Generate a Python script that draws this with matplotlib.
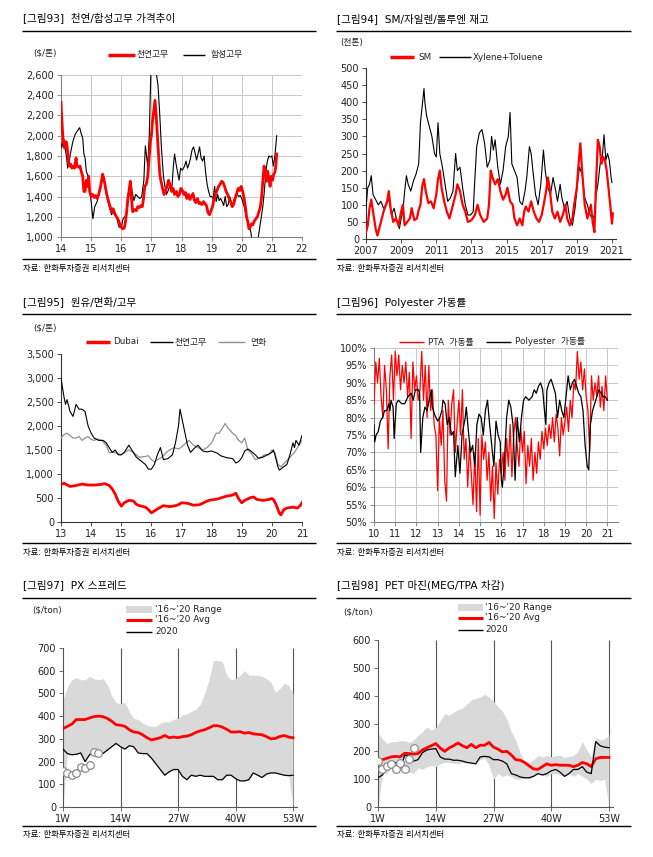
import matplotlib
matplotlib.use('Agg')
import matplotlib.pyplot as plt
from matplotlib.lines import Line2D
from matplotlib.patches import Rectangle
from matplotlib.ticker import FuncFormatter, MultipleLocator

# ---------------- DATA ----------------
# [그림93] 천연/합성고무 ($/톤)
nat93_t = [14.0, 14.02, 14.05, 14.08, 14.1, 14.13, 14.17, 14.2, 14.24, 14.28, 14.32, 14.36, 14.4, 14.45, 14.5, 14.53, 14.58, 14.63, 14.68, 14.72, 14.76, 14.8, 14.84, 14.88, 14.92, 14.95,
           15.0, 15.05, 15.1, 15.15, 15.2, 15.25, 15.3, 15.35, 15.38, 15.42, 15.47, 15.52, 15.58, 15.63, 15.68, 15.73, 15.78, 15.84, 15.9, 15.95,
           16.0, 16.05, 16.1, 16.14, 16.18, 16.22, 16.27, 16.3, 16.34, 16.38, 16.45, 16.5, 16.55, 16.6, 16.65, 16.7, 16.74, 16.78, 16.83, 16.88, 16.93, 16.97,
           17.0, 17.04, 17.08, 17.12, 17.16, 17.2, 17.24, 17.28, 17.32, 17.37, 17.42, 17.47, 17.52, 17.57, 17.62, 17.67, 17.72, 17.77, 17.83, 17.88, 17.93, 17.98,
           18.03, 18.08, 18.13, 18.18, 18.23, 18.28, 18.33, 18.38, 18.43, 18.48, 18.53, 18.58, 18.63, 18.68, 18.73, 18.78, 18.83, 18.88, 18.93, 18.98,
           19.03, 19.08, 19.13, 19.18, 19.23, 19.28, 19.33, 19.38, 19.43, 19.48, 19.53, 19.58, 19.63, 19.68, 19.73, 19.78, 19.83, 19.88, 19.93, 19.98,
           20.03, 20.08, 20.12, 20.16, 20.2, 20.24, 20.28, 20.32, 20.37, 20.42, 20.47, 20.52, 20.57, 20.62, 20.66, 20.7, 20.74, 20.78, 20.82, 20.86, 20.9, 20.94, 20.98,
           21.02, 21.06, 21.1, 21.13, 21.16]
nat93_v = [2330, 2200, 2050, 1920, 1950, 1880, 1940, 1900, 1780, 1700, 1720, 1680, 1700, 1680, 1780, 1700, 1690, 1700, 1640, 1600, 1450, 1450, 1560, 1500, 1600, 1450,
           1400, 1420, 1390, 1410, 1380, 1420, 1480, 1560, 1620, 1580, 1500, 1420, 1350, 1300, 1250, 1280, 1230, 1200, 1170, 1130,
           1100, 1080, 1090, 1150, 1250, 1380, 1480, 1550, 1380, 1250, 1270, 1260, 1300, 1290, 1310, 1300, 1380, 1500, 1520, 1600, 1800, 1950,
           2000, 2150, 2250, 2350, 2200, 2000, 1800, 1620, 1550, 1480, 1420, 1460, 1500, 1560, 1520, 1450, 1480, 1420, 1450, 1400, 1420, 1480,
           1460, 1420, 1440, 1380, 1420, 1370, 1400, 1430, 1360, 1340, 1380, 1330, 1340, 1320, 1350, 1330, 1310, 1240, 1220, 1260,
           1300, 1380, 1420, 1460, 1500, 1520, 1550, 1540, 1500, 1450, 1420, 1380, 1350, 1300, 1320, 1380, 1430, 1480, 1460, 1500,
           1450, 1380, 1300, 1200, 1150, 1080, 1100, 1130, 1120, 1160, 1180, 1200, 1250, 1300, 1400, 1550, 1700, 1650, 1550, 1650, 1580, 1500, 1600,
           1560, 1620, 1640, 1700, 1820]
syn93_t = [14.0, 14.04, 14.08, 14.12, 14.18, 14.22, 14.28, 14.33, 14.4, 14.48, 14.55, 14.62, 14.67, 14.72, 14.76, 14.8, 14.84, 14.9, 14.95,
           15.0, 15.06, 15.12, 15.2, 15.28, 15.35, 15.4, 15.45, 15.5, 15.56, 15.62, 15.68, 15.74, 15.8, 15.86, 15.92,
           16.0, 16.06, 16.12, 16.18, 16.22, 16.28, 16.32, 16.36, 16.42, 16.48, 16.55, 16.62, 16.68, 16.75, 16.8, 16.84, 16.88, 16.93, 16.98,
           17.03, 17.1, 17.17, 17.22, 17.28, 17.33, 17.4, 17.45, 17.5, 17.56, 17.62, 17.68, 17.73, 17.77, 17.82, 17.87, 17.92, 17.97,
           18.03, 18.1, 18.15, 18.2, 18.25, 18.3, 18.35, 18.4, 18.45, 18.5, 18.55, 18.6, 18.65, 18.7, 18.75, 18.8, 18.85, 18.9, 18.95,
           19.0, 19.05, 19.1, 19.15, 19.2, 19.25, 19.3, 19.35, 19.4, 19.45, 19.5, 19.55, 19.6, 19.65, 19.7, 19.75, 19.8, 19.85, 19.9, 19.95,
           20.0, 20.05, 20.1, 20.15, 20.2, 20.25, 20.3, 20.35, 20.4, 20.45, 20.5, 20.55, 20.6, 20.65, 20.7, 20.75, 20.8, 20.85, 20.9, 20.95,
           21.0, 21.05, 21.1, 21.13, 21.16]
syn93_v = [1880, 1930, 1880, 1900, 1800, 1680, 1760, 1850, 1950, 2020, 2050, 2080, 2020, 1980, 1820, 1780, 1650, 1600, 1480,
           1350, 1180, 1300, 1350, 1450, 1550, 1600, 1520, 1420, 1350, 1280, 1220, 1270, 1240, 1180, 1100,
           1090, 1180, 1200, 1250, 1400, 1450, 1550, 1450, 1360, 1420, 1400, 1380, 1400, 1560, 1900, 1800, 1700, 2000, 2600,
           2800, 2700, 2600, 2500, 2200, 1900, 1600, 1500, 1420, 1460, 1520, 1480, 1700, 1820, 1720, 1640, 1560, 1680,
           1660, 1700, 1750, 1680, 1720, 1780, 1860, 1890, 1830, 1760, 1820, 1890, 1780, 1750, 1800, 1640, 1520, 1450, 1400,
           1400, 1380, 1500, 1350, 1420, 1360, 1380, 1350, 1310, 1400, 1300, 1320, 1400, 1340, 1300, 1380, 1400, 1420, 1400, 1410,
           1380, 1330, 1280, 1200, 1150, 1100, 1050, 950, 980, 960, 980, 1000, 1100, 1200, 1300, 1450, 1650, 1750, 1800, 1790,
           1800, 1700, 1800, 1900, 2000]

# [그림94] SM / Xylene+Toluene 재고 (천톤)
sm94_t = [2007.0, 2007.1, 2007.2, 2007.3, 2007.4, 2007.55, 2007.65, 2007.8, 2008.0, 2008.2, 2008.3, 2008.4, 2008.55, 2008.7, 2008.85,
          2009.0, 2009.1, 2009.2, 2009.35, 2009.5, 2009.6, 2009.75, 2009.9, 2010.0, 2010.1, 2010.2, 2010.3, 2010.4, 2010.55, 2010.7, 2010.85,
          2011.0, 2011.1, 2011.2, 2011.3, 2011.45, 2011.6, 2011.75, 2011.9, 2012.1, 2012.2, 2012.35, 2012.5, 2012.65, 2012.8,
          2013.0, 2013.2, 2013.35, 2013.5, 2013.7, 2013.9, 2014.0, 2014.1, 2014.2, 2014.35, 2014.5, 2014.65, 2014.8, 2014.95,
          2015.05, 2015.2, 2015.35, 2015.45, 2015.6, 2015.75, 2015.9, 2016.0, 2016.1, 2016.25, 2016.4, 2016.55, 2016.7, 2016.85,
          2017.0, 2017.15, 2017.25, 2017.35, 2017.45, 2017.6, 2017.75, 2017.9, 2018.05, 2018.2, 2018.35, 2018.45, 2018.6, 2018.75, 2018.85,
          2019.0, 2019.1, 2019.2, 2019.3, 2019.45, 2019.6, 2019.7, 2019.8, 2019.9, 2020.0, 2020.1, 2020.2, 2020.3, 2020.4, 2020.5,
          2020.6, 2020.7, 2020.8, 2020.9, 2021.0, 2021.05]
sm94_v = [20, 40, 90, 115, 80, 30, 10, 40, 80, 110, 140, 90, 50, 60, 40,
          80, 100, 40, 50, 60, 90, 55, 60, 85, 100, 155, 175, 140, 105, 110, 90,
          130, 175, 200, 150, 110, 80, 60, 90, 130, 160, 140, 100, 80, 50,
          55, 70, 100, 70, 50, 60, 100, 200, 180, 160, 175, 140, 115, 130,
          150, 110, 100, 60, 40, 60, 40, 80, 95, 80, 110, 80, 60, 50,
          70, 110, 140, 180, 150, 80, 60, 80, 50, 70, 100, 60, 40, 60, 100,
          150, 220, 280, 200, 100, 60, 80, 100, 50, 20, 170, 290, 270, 220, 240,
          230, 200, 150, 100, 45, 75]
xt94_t = [2007.0, 2007.1, 2007.2, 2007.3, 2007.4, 2007.55, 2007.7, 2007.85, 2008.0, 2008.15, 2008.3, 2008.45, 2008.6, 2008.75, 2008.9,
          2009.0, 2009.1, 2009.2, 2009.3, 2009.4, 2009.55, 2009.7, 2009.85, 2010.0, 2010.1, 2010.2, 2010.3, 2010.35, 2010.45, 2010.6, 2010.75, 2010.9,
          2011.0, 2011.1, 2011.2, 2011.35, 2011.5, 2011.65, 2011.8, 2011.95, 2012.1, 2012.2, 2012.35, 2012.5, 2012.65, 2012.8, 2012.95,
          2013.1, 2013.2, 2013.3, 2013.45, 2013.6, 2013.75, 2013.9, 2014.05, 2014.15, 2014.25, 2014.35, 2014.5, 2014.65, 2014.8, 2014.95,
          2015.1, 2015.2, 2015.3, 2015.45, 2015.6, 2015.75, 2015.9, 2016.05, 2016.15, 2016.3, 2016.4, 2016.5, 2016.65, 2016.8, 2016.95,
          2017.1, 2017.2, 2017.35, 2017.5, 2017.65, 2017.8, 2017.9, 2018.05, 2018.15, 2018.3, 2018.45, 2018.6, 2018.75, 2018.9,
          2019.05, 2019.15, 2019.3, 2019.45, 2019.6, 2019.75, 2019.9, 2020.0, 2020.1, 2020.2, 2020.35, 2020.45, 2020.55, 2020.65, 2020.75,
          2020.85, 2020.95, 2021.0]
xt94_v = [90, 150, 160, 185, 130, 115, 100, 110, 90, 100, 120, 70, 90, 55, 30,
          60, 80, 140, 185, 160, 140, 170, 190, 220, 340, 390, 440, 400, 360, 330, 300, 250,
          240, 340, 250, 210, 160, 110, 120, 140, 250, 200, 210, 150, 100, 70, 70,
          80, 180, 270, 310, 320, 280, 210, 230, 300, 260, 290, 210, 160, 200, 270,
          300, 370, 220, 200, 180, 110, 100, 140, 180, 270, 250, 200, 130, 100, 160,
          260, 200, 150, 130, 180, 140, 110, 160, 120, 90, 110, 60, 40, 90,
          170, 210, 190, 120, 100, 70, 60, 70, 130, 160, 230, 240, 305, 230, 250,
          230, 180, 165]

# [그림95] 원유/면화/고무 ($/톤)
dub95_t = [13.0, 13.1, 13.3, 13.5, 13.7, 13.9, 14.1, 14.3, 14.45, 14.6, 14.7, 14.8, 14.9, 15.0, 15.1, 15.25, 15.4, 15.5, 15.6, 15.8, 15.9,
           16.0, 16.1, 16.25, 16.4, 16.6, 16.8, 16.9, 17.0, 17.2, 17.4, 17.6, 17.8, 17.9, 18.0, 18.2, 18.35, 18.5, 18.7, 18.8, 18.9,
           19.0, 19.1, 19.3, 19.4, 19.5, 19.7, 19.9, 20.0, 20.05, 20.15, 20.25, 20.3, 20.4, 20.5, 20.7, 20.85, 20.95, 21.0]
dub95_v = [780, 810, 740, 760, 790, 770, 770, 780, 800, 760, 690, 580, 430, 330, 400, 450, 440, 370, 340, 310, 260,
           190, 230, 290, 340, 320, 340, 360, 400, 390, 350, 360, 420, 450, 460, 480, 510, 540, 560, 600, 480,
           400, 450, 510, 520, 470, 450, 470, 490, 470, 350, 180, 150, 260, 290, 310, 290, 350, 400]
rub95_t = [13.0, 13.05, 13.1, 13.15, 13.2, 13.3, 13.4, 13.5, 13.6, 13.7, 13.8, 13.9, 14.0, 14.1, 14.25, 14.4, 14.5, 14.6, 14.7, 14.8, 14.9,
           15.0, 15.1, 15.25, 15.35, 15.5, 15.7, 15.8, 15.9, 16.0, 16.1, 16.15, 16.2, 16.3, 16.4, 16.55, 16.7, 16.8, 16.9, 16.95,
           17.0, 17.1, 17.2, 17.3, 17.45, 17.55, 17.7, 17.85, 18.0, 18.2, 18.3, 18.5, 18.7, 18.8, 18.9,
           19.0, 19.1, 19.2, 19.3, 19.45, 19.55, 19.7, 19.85, 20.0, 20.05, 20.1, 20.2, 20.25, 20.35, 20.5, 20.6, 20.7, 20.75, 20.8, 20.9, 21.0]
rub95_v = [3000, 2800, 2600, 2450, 2550, 2300, 2200, 2450, 2350, 2350, 2300, 2000, 1850, 1750, 1700, 1700, 1650, 1550, 1450, 1500, 1400,
           1400, 1450, 1600, 1500, 1350, 1250, 1200, 1100, 1100, 1200, 1300, 1400, 1550, 1300, 1320, 1400, 1650, 2000, 2350,
           2200, 1900, 1600, 1450, 1550, 1600, 1480, 1460, 1480, 1430, 1380, 1340, 1320, 1230, 1260,
           1340, 1480, 1520, 1480, 1400, 1330, 1350, 1400, 1450, 1500, 1400, 1150, 1080, 1130, 1200, 1400, 1650, 1550, 1700, 1600, 1800]
cot95_t = [13.0, 13.1, 13.2, 13.3, 13.4, 13.5, 13.6, 13.7, 13.8, 13.9, 14.0, 14.1, 14.2, 14.35, 14.5, 14.6, 14.75, 14.9,
           15.0, 15.1, 15.25, 15.4, 15.5, 15.6, 15.75, 15.9, 16.0, 16.1, 16.2, 16.35, 16.5, 16.6, 16.75, 16.9,
           17.0, 17.15, 17.25, 17.4, 17.55, 17.7, 17.85, 18.0, 18.15, 18.25, 18.35, 18.45, 18.55, 18.7, 18.8, 18.9,
           19.0, 19.1, 19.2, 19.3, 19.45, 19.6, 19.75, 19.9, 20.0, 20.1, 20.2, 20.3, 20.45, 20.6, 20.75, 20.9, 21.0]
cot95_v = [1750, 1820, 1850, 1800, 1750, 1750, 1780, 1700, 1750, 1780, 1720, 1700, 1730, 1700, 1600, 1450, 1450, 1420,
           1400, 1450, 1500, 1450, 1400, 1350, 1360, 1380, 1300, 1250, 1300, 1350, 1450, 1500, 1550, 1520,
           1560, 1650, 1700, 1600, 1550, 1500, 1550, 1650, 1850, 1850, 1950, 2050, 1950, 1850, 1800, 1700,
           1650, 1750, 1500, 1450, 1300, 1330, 1400, 1400, 1500, 1450, 1200, 1150, 1250, 1350, 1450, 1600, 1700]

# [그림96] Polyester 가동률 (%)
pta96_t = [10 + i / 12 for i in range(133)]
pta96_v = [84, 96, 90, 97, 86, 80, 95, 88, 71, 92, 98, 85,
           99, 92, 98, 88, 95, 90, 96, 86, 93, 74, 96, 88,
           92, 85, 88, 99, 85, 95, 80, 95, 82, 88, 78, 75,
           59, 80, 72, 82, 62, 56, 85, 75, 84, 88, 70, 78,
           85, 75, 88, 68, 74, 60, 72, 64, 55, 70, 53, 74,
           52, 75, 68, 73, 62, 70, 56, 66, 51, 67, 58, 68,
           64, 70, 62, 74, 66, 78, 63, 75, 80, 72, 66, 77,
           70, 76, 61, 72, 66, 74, 62, 70, 64, 73, 68, 76,
           71, 77, 72, 78, 74, 80, 73, 81, 77, 69, 80, 75,
           79, 83, 76, 85, 80, 90, 88, 99, 91, 96, 88, 94,
           86, 82, 70, 92, 85, 90, 86, 92, 83, 89, 82, 92, 85]
pet96_t = [10.0, 10.03, 10.1, 10.2, 10.3, 10.4, 10.5, 10.6, 10.7, 10.75, 10.8, 10.9, 10.95, 11.05, 11.15, 11.3, 11.45, 11.6, 11.75, 11.85, 11.95,
           12.1, 12.15, 12.2, 12.3, 12.4, 12.5, 12.6, 12.7, 12.75, 12.85, 13.0, 13.1, 13.2, 13.25, 13.35, 13.45, 13.55, 13.65, 13.75, 13.83, 13.95,
           14.05, 14.15, 14.3, 14.35, 14.45, 14.55, 14.65, 14.75, 14.85, 14.95, 15.05, 15.15, 15.25, 15.35, 15.45, 15.55, 15.65, 15.75, 15.85, 15.95,
           16.0, 16.05, 16.15, 16.25, 16.35, 16.45, 16.55, 16.65, 16.75, 16.85, 16.95, 17.05, 17.15, 17.3, 17.45, 17.55, 17.65, 17.75, 17.85, 17.95,
           18.05, 18.1, 18.15, 18.25, 18.35, 18.45, 18.55, 18.65, 18.75, 18.85, 18.95, 19.05, 19.15, 19.25, 19.35, 19.45, 19.55, 19.65, 19.75, 19.85, 19.95,
           20.05, 20.12, 20.2, 20.3, 20.4, 20.5, 20.6, 20.7, 20.8, 20.9, 21.0]
pet96_v = [78, 73, 75, 76, 79, 80, 82, 82, 84, 82, 85, 83, 74, 84, 85, 84, 84, 86, 87, 85, 88,
           88, 87, 70, 80, 83, 82, 85, 88, 83, 81, 79, 80, 82, 85, 84, 78, 80, 75, 76, 63, 72,
           64, 75, 80, 83, 76, 70, 72, 66, 78, 81, 80, 75, 82, 85, 78, 72, 66, 79, 75, 73,
           62, 60, 68, 80, 85, 83, 78, 62, 80, 73, 80, 85, 86, 85, 86, 88, 87, 89, 90, 88,
           81, 78, 88, 90, 91, 89, 87, 80, 85, 82, 80, 86, 92, 88, 90, 91, 89, 87, 86, 82, 72,
           66, 65, 78, 82, 84, 86, 88, 87, 86, 86, 85]

# [그림97] PX 스프레드 ($/ton), weeks 1..53
weeks = list(range(1, 54))
px_hi = [470, 530, 560, 570, 560, 560, 575, 565, 560, 565, 540, 490, 460, 455, 460, 420, 390, 385, 370, 360,
         355, 355, 370, 375, 375, 385, 390, 405, 410, 420, 430, 450, 500, 560, 645, 645, 640, 580, 560, 565,
         580, 600, 580, 580, 580, 575, 565, 550, 505, 520, 545, 535, 500]
px_2020 = [255, 235, 230, 232, 238, 200, 230, 245, 235, 235, 250, 265, 280, 265, 255, 270, 265, 238, 235, 235,
           215, 190, 165, 140, 155, 165, 165, 135, 120, 140, 135, 140, 135, 135, 135, 120, 120, 140, 140, 125,
           115, 115, 120, 150, 140, 130, 145, 150, 150, 145, 140, 138, 140]
px_lo = [0] + px_2020[1:52] + [0]
px_avg = [345, 355, 365, 385, 385, 385, 392, 398, 400, 398, 390, 378, 362, 360, 355, 340, 330, 328, 318, 305,
          295, 300, 305, 315, 305, 308, 305, 310, 312, 318, 328, 335, 340, 348, 358, 358, 352, 342, 330, 330,
          332, 325, 328, 322, 320, 318, 310, 300, 302, 310, 315, 308, 305]
px_2021 = [160, 148, 140, 150, 175, 170, 185, 242, 237]

# [그림98] PET 마진 ($/ton)
pet_hi = [265, 245, 228, 235, 235, 238, 238, 232, 240, 258, 270, 288, 275, 285, 310, 335, 330, 340, 350, 355,
          370, 385, 390, 395, 405, 395, 380, 360, 345, 315, 270, 240, 195, 165, 160, 170, 185, 180, 185, 180,
          185, 185, 178, 182, 185, 200, 235, 205, 180, 250, 240, 245, 260]
pet_lo = [0, 120, 120, 150, 150, 140, 130, 125, 120, 140, 135, 145, 150, 145, 155, 160, 160, 158, 155, 160,
          160, 155, 160, 170, 175, 150, 100, 120, 110, 115, 110, 100, 100, 105, 100, 110, 120, 115, 110, 120,
          120, 115, 110, 120, 110, 120, 110, 100, 85, 100, 95, 100, 0]
pet_avg = [165, 170, 175, 180, 182, 180, 193, 192, 190, 192, 205, 213, 220, 228, 212, 200, 212, 220, 230, 220,
           213, 225, 213, 222, 222, 232, 215, 208, 198, 200, 187, 170, 168, 160, 148, 137, 135, 145, 155, 150,
           152, 150, 150, 150, 145, 150, 160, 155, 145, 173, 178, 178, 178]
pet_2020 = [105, 115, 140, 155, 160, 140, 185, 185, 165, 170, 195, 205, 208, 210, 180, 172, 172, 168, 168, 165,
            160, 158, 155, 180, 182, 180, 170, 170, 165, 155, 120, 115, 108, 105, 105, 110, 120, 115, 120, 130,
            135, 125, 110, 120, 135, 135, 145, 125, 120, 235, 220, 215, 213]
pet_2021 = [167, 136, 146, 154, 136, 158, 137, 173, 211]

week_ticks = [1, 14, 27, 40, 53]
week_labels = ['1W', '14W', '27W', '40W', '53W']

# ---------------- FIGURE ----------------
plt.rcParams['font.family'] = ['DejaVu Sans', 'Noto Sans CJK KR']
W, H = 653, 857
fig = plt.figure(figsize=(W / 100, H / 100), dpi=100)
fig.patch.set_facecolor('white')

RED = '#ff0000'
TXT = '#222222'


def fx(x):
    return x / W


def fy(y):
    return 1 - y / H


def add_ax(l, t, r, b):
    return fig.add_axes([fx(l), fy(b), (r - l) / W, (b - t) / H])


def hline(x0, x1, y, color='black', lw=1.0):
    fig.add_artist(Line2D([fx(x0), fx(x1)], [fy(y), fy(y)], color=color, lw=lw, solid_capstyle='butt'))


def txt(x, y, s, size, **kw):
    fig.text(fx(x), fy(y), s, fontsize=size, va='center', ha='left', color=kw.pop('color', TXT), **kw)


def frame(x0, x1, y_title, y_top, y_bot, title):
    txt(x0 + 1, y_title, title, 7.6, color='black')
    hline(x0, x1, y_top, lw=1.0)
    hline(x0, x1, y_bot, lw=1.0)
    txt(x0 + 1, y_bot + 9, '자료: 한화투자증권 리서치센터', 6.0, color='black')


def style(ax, grid=False, spine='#808080', ticklen=3):
    for s in ['top', 'right']:
        ax.spines[s].set_visible(False)
    for s in ['left', 'bottom']:
        ax.spines[s].set_color(spine)
        ax.spines[s].set_linewidth(0.8)
    ax.tick_params(labelsize=7, labelcolor=TXT, color=spine, length=ticklen, width=0.6, pad=2)
    if grid:
        ax.grid(True, color='#c8c8c8', lw=0.7)
        ax.set_axisbelow(True)


comma = FuncFormatter(lambda v, p: f'{int(v):,}')

# ---- Panel 93 ----
frame(22, 316, 19, 31, 259, '[그림93]  천연/합성고무 가격추이')
txt(33, 53, '($/톤)', 6.3)
hline(108, 135, 55, color=RED, lw=2.5)
txt(137, 55, '천연고무', 6.3)
hline(183, 205, 55, color='black', lw=1.0)
txt(211, 55, '합성고무', 6.3)
ax = add_ax(61, 75, 302, 237)
ax.plot(syn93_t, syn93_v, color='black', lw=0.8, zorder=3)
ax.plot(nat93_t, nat93_v, color=RED, lw=2.0, zorder=4)
ax.set_xlim(14, 22)
ax.set_ylim(1000, 2600)
ax.set_xticks(range(14, 23))
ax.set_yticks(range(1000, 2601, 200))
ax.yaxis.set_major_formatter(comma)
style(ax, grid=True)

# ---- Panel 94 ----
frame(336, 631, 19, 31, 259, '[그림94]  SM/자일렌/톨루엔 재고')
txt(340, 43, '(천톤)', 6.3)
hline(390, 414, 57, color=RED, lw=2.5)
txt(418, 57, 'SM', 6.3)
hline(439, 471, 57, color='black', lw=1.0)
txt(473, 57, 'Xylene+Toluene', 6.3)
ax = add_ax(366, 68, 616, 239)
ax.plot(xt94_t, xt94_v, color='black', lw=0.8, zorder=3)
ax.plot(sm94_t, sm94_v, color=RED, lw=1.6, zorder=4)
ax.set_xlim(2007, 2021.23)
ax.set_ylim(0, 500)
ax.set_xticks(range(2007, 2022, 2))
ax.set_yticks(range(0, 501, 50))
style(ax, spine='#333333')

# ---- Panel 95 ----
frame(22, 316, 302, 314, 543, '[그림95]  원유/면화/고무')
txt(33, 328, '($/톤)', 6.3)
hline(86, 110, 342, color=RED, lw=2.5)
txt(113, 342, 'Dubai', 6.3)
hline(150, 173, 342, color='black', lw=1.0)
txt(175, 342, '천연고무', 6.3)
hline(218, 245, 342, color='#909090', lw=1.0)
txt(250, 342, '면화', 6.3)
ax = add_ax(61, 354, 302, 522)
ax.plot(cot95_t, cot95_v, color='#909090', lw=0.9, zorder=3)
ax.plot(rub95_t, rub95_v, color='black', lw=0.8, zorder=3)
ax.plot(dub95_t, dub95_v, color=RED, lw=2.0, zorder=4)
ax.set_xlim(13, 21)
ax.set_ylim(0, 3500)
ax.set_xticks(range(13, 22))
ax.set_yticks(range(0, 3501, 500))
ax.yaxis.set_major_formatter(comma)
style(ax, spine='#333333')

# ---- Panel 96 ----
frame(336, 631, 302, 314, 543, '[그림96]  Polyester 가동률')
hline(399, 424, 342, color=RED, lw=1.0)
txt(428, 342, 'PTA  가동률', 6.3)
hline(486, 511, 342, color='black', lw=1.0)
txt(515, 342, 'Polyester  가동률', 6.3)
ax = add_ax(374, 348, 618, 522)
ax.plot(pta96_t, pta96_v, color=RED, lw=0.9, zorder=3)
ax.plot(pet96_t, pet96_v, color='black', lw=0.9, zorder=4)
ax.set_xlim(10, 21.5)
ax.set_ylim(50, 100)
ax.set_xticks(range(10, 22))
ax.set_yticks(range(50, 101, 5))
ax.yaxis.set_major_formatter(FuncFormatter(lambda v, p: f'{int(v)}%'))
style(ax, grid=True)

# ---- Panel 97 ----
frame(22, 316, 585, 598, 826, '[그림97]  PX 스프레드')
txt(32, 610, '($/ton)', 6.3)
fig.add_artist(Rectangle((fx(126), fy(613)), (152 - 126) / W, 7 / H, facecolor='#d9d9d9', edgecolor='none'))
txt(155, 609, "'16~'20 Range", 6.5)
hline(126, 152, 620, color=RED, lw=2.2)
txt(155, 620, "'16~'20 Avg", 6.5)
hline(126, 152, 632, color='black', lw=1.0)
txt(155, 632, '2020', 6.5)
ax = add_ax(63, 648, 297, 807)
ax.vlines(week_ticks[1:], 0, 700, color='#555555', lw=0.8, zorder=1)
ax.fill_between(weeks, px_lo, px_hi, color='#d9d9d9', lw=0, zorder=2)
ax.plot(weeks, px_avg, color=RED, lw=2.0, zorder=3)
ax.plot(weeks, px_2020, color='black', lw=0.9, zorder=4)
ax.plot(weeks[:len(px_2021)], px_2021, 'o', ms=5.5, mfc='white', mec='#8c8c8c', mew=0.9, zorder=5)
ax.set_xlim(1, 53.9)
ax.set_ylim(0, 700)
ax.set_xticks(week_ticks)
ax.set_xticklabels(week_labels)
ax.set_yticks(range(0, 701, 100))
style(ax, spine='#555555')

# ---- Panel 98 ----
frame(336, 631, 585, 598, 826, '[그림98]  PET 마진(MEG/TPA 차감)')
txt(343, 612, '($/ton)', 6.3)
fig.add_artist(Rectangle((fx(458), fy(611)), (483 - 458) / W, 7 / H, facecolor='#d9d9d9', edgecolor='none'))
txt(485, 607, "'16~'20 Range", 6.5)
hline(458, 483, 618, color=RED, lw=2.2)
txt(485, 618, "'16~'20 Avg", 6.5)
hline(458, 483, 630, color='black', lw=1.0)
txt(485, 630, '2020', 6.5)
ax = add_ax(378, 640, 613, 807)
ax.vlines(week_ticks[1:], 0, 600, color='#555555', lw=0.8, zorder=1)
ax.fill_between(weeks, pet_lo, pet_hi, color='#d9d9d9', lw=0, zorder=2)
ax.plot(weeks, pet_avg, color=RED, lw=2.0, zorder=3)
ax.plot(weeks, pet_2020, color='black', lw=0.9, zorder=4)
ax.plot(weeks[:len(pet_2021)], pet_2021, 'o', ms=5.5, mfc='white', mec='#8c8c8c', mew=0.9, zorder=5)
ax.set_xlim(1, 53.9)
ax.set_ylim(0, 600)
ax.set_xticks(week_ticks)
ax.set_xticklabels(week_labels)
ax.set_yticks(range(0, 601, 100))
style(ax, spine='#555555')

fig.savefig('out.png', dpi=100, facecolor='white')
